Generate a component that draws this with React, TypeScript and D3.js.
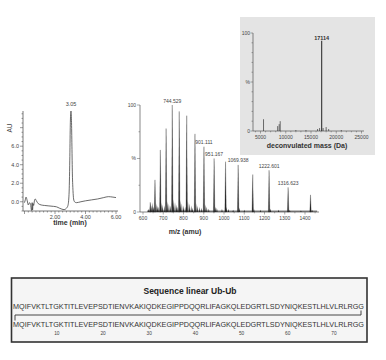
import React from "react";
import * as d3 from "d3";

// ---------- DATA ----------
// Chromatogram (time in min, absorbance AU)
const chromTime = [0.0, 0.05, 0.1, 0.18, 0.25, 0.33, 0.4, 0.45, 0.47, 0.5, 0.53, 0.56, 0.6, 0.65, 0.7, 0.78, 0.9, 1.1, 1.3, 1.6, 1.9, 2.1, 2.3, 2.45, 2.6, 2.75, 2.85, 2.92, 2.97, 3.0, 3.03, 3.05, 3.08, 3.11, 3.14, 3.18, 3.22, 3.28, 3.4, 3.7, 4.0, 4.4, 4.8, 5.2, 5.5, 5.8, 6.0];
const chromAU = [-0.1, 0.2, 0.5, 0.1, -0.35, -0.1, -0.3, -0.9, -0.95, -0.1, -0.9, -0.2, -0.4, 0.1, 0.3, 0.1, -0.2, -0.35, -0.4, -0.45, -0.5, -0.55, -0.7, -0.8, -0.85, -0.7, -0.4, 0.8, 4.5, 8.0, 9.6, 9.8, 8.8, 6.0, 3.0, 1.2, 0.3, 0.0, -0.1, 0.0, 0.1, 0.2, 0.3, 0.45, 0.55, 0.5, 0.45];
const chromPeakLabel = "3.05";
const chromPeakTime = 3.05;
const chromYTicks = [0, 2, 4, 6];
const chromXTicks = [2, 4, 6];

// ESI mass spectrum: main charge-state peaks (m/z, %)
const msMz = [636, 659.2, 685.6, 714.1, 744.5, 778.9, 815.9, 856.7, 901.1, 951.2, 1007.7, 1069.9, 1141.9, 1222.6, 1316.6, 1427.2];
const msInt = [9, 30, 58, 78, 100, 94, 90, 73, 61, 50, 47, 44, 35, 39, 23, 16];
// adduct / noise peaks near baseline (m/z, %)
const msMinorMz = [628, 641, 648, 652, 665, 672, 678, 690, 697, 705, 720, 728, 735, 751, 758, 766, 772, 785, 792, 800, 808, 822, 830, 838, 845, 862, 870, 880, 890, 907, 915, 925, 957, 965, 990, 1013, 1022, 1045, 1076, 1100, 1148, 1180, 1230, 1270, 1325, 1380, 1435];
const msMinorInt = [3, 6, 9, 5, 8, 6, 5, 9, 7, 6, 10, 8, 6, 12, 9, 7, 5, 11, 8, 6, 5, 10, 8, 6, 4, 8, 6, 5, 4, 7, 5, 3, 5, 4, 3, 5, 3, 2, 4, 2, 3, 2, 3, 2, 2, 1.5, 2];
const msLabels = ["744.529", "901.111", "951.167", "1069.938", "1222.601", "1316.623"];
const msLabelMz = [744.5, 901.1, 951.2, 1069.9, 1222.6, 1316.6];
const msXTicks = [600, 700, 800, 900, 1000, 1100, 1200, 1300, 1400];

// Deconvoluted mass spectrum (Da, %)
const decMass = [5600, 8400, 8700, 8900, 12000, 14000, 16300, 16700, 17114, 17400, 18000, 18500, 21000];
const decInt = [12, 5, 7, 10, 1, 1, 2, 3, 92, 3, 4, 2, 1];
const decXTicks = [5000, 10000, 15000, 20000, 25000];

// Sequence
const seqTitle = "Sequence linear Ub-Ub";
const seq = "MQIFVKTLTGKTITLEVEPSDTIENVKAKIQDKEGIPPDQQRLIFAGKQLEDGRTLSDYNIQKESTLHLVLRLRGG";
const seqNumbers = [10, 20, 30, 40, 50, 60, 70];

const FONT = "'Liberation Sans', Arial, Helvetica, sans-serif";
const AX = "#555";
const TX = "#444";

export default function App() {
  // ---------- chromatogram ----------
  const cx = d3.scaleLinear().domain([0, 6]).range([24.5, 116]);
  const cy = d3.scaleLinear().domain([-1, 9.8]).range([211, 111]);
  const chromLine = d3.line<number>().x((_, i) => cx(chromTime[i])).y((d) => cy(d)).curve(d3.curveMonotoneX);
  const cyMinor = d3.range(-1, 9.81, 0.5);
  const cxMinor = d3.range(0, 6.01, 0.25);

  // ---------- mass spectrum ----------
  const mx = d3.scaleLinear().domain([600, 1400]).range([143, 305]);
  const my = d3.scaleLinear().domain([0, 100]).range([212, 105]);
  const spike = (mz: number, v: number, hw: number) =>
    `M${mx(mz - hw)},${my(0)}L${mx(mz)},${my(v)}L${mx(mz + hw)},${my(0)}Z`;
  const myMinor = d3.range(0, 101, 25);
  const mxMinor = d3.range(600, 1460, 50);

  // ---------- deconvoluted ----------
  const dx = d3.scaleLinear().domain([5000, 25000]).range([260.5, 361.5]);
  const dy = d3.scaleLinear().domain([0, 100]).range([131, 33]);
  const dyMinor = d3.range(0, 101, 10);
  const dxMinor = d3.range(4000, 25001, 1000);

  // ---------- sequence ----------
  const seqX0 = 13;
  const seqW = 351;
  const charW = seqW / seq.length;

  return (
    <svg width={386} height={360} style={{ position: "absolute", left: 0, top: 0, background: "#fff" }} fontFamily={FONT}>
      {/* ===== Chromatogram ===== */}
      <g>
        <line x1={23} x2={23} y1={cy(9.8)} y2={211} stroke={AX} strokeWidth={0.8} />
        <line x1={23} x2={118} y1={211} y2={211} stroke={AX} strokeWidth={0.8} />
        {cyMinor.map((v, i) => (
          <line key={"cym" + i} x1={Number.isInteger(v) && v % 2 === 0 ? 20 : 21.5} x2={23} y1={cy(v)} y2={cy(v)} stroke={AX} strokeWidth={0.6} />
        ))}
        {cxMinor.map((v, i) => (
          <line key={"cxm" + i} x1={cx(v)} x2={cx(v)} y1={211} y2={Number.isInteger(v) && v % 2 === 0 ? 214 : 212.5} stroke={AX} strokeWidth={0.6} />
        ))}
        {chromYTicks.map((v) => (
          <text key={"cyt" + v} x={19} y={cy(v)} dy="0.35em" textAnchor="end" fontSize={5.5} fill={TX}>
            {v.toFixed(1)}
          </text>
        ))}
        {chromXTicks.map((v) => (
          <text key={"cxt" + v} x={cx(v)} y={219} textAnchor="middle" fontSize={5.5} fill={TX}>
            {v.toFixed(2)}
          </text>
        ))}
        <text x={10} y={128} transform="rotate(-90 10 128)" textAnchor="middle" dy="0.35em" fontSize={6.5} fill={TX}>AU</text>
        <path d={chromLine(chromAU) || ""} fill="none" stroke="#444" strokeWidth={0.8} />
        <text x={cx(chromPeakTime)} y={106} textAnchor="middle" fontSize={5.5} fill={TX}>{chromPeakLabel}</text>
        <text x={70} y={225} textAnchor="middle" fontSize={7} fontWeight="bold" fill="#333">time (min)</text>
      </g>

      {/* ===== Deconvoluted inset ===== */}
      <g>
        <rect x={240} y={17} width={135} height={138} fill="#e4e4e4" />
        <line x1={253} x2={253} y1={33} y2={131} stroke={AX} strokeWidth={0.7} />
        <line x1={253} x2={364} y1={131} y2={131} stroke={AX} strokeWidth={0.7} />
        {dyMinor.map((v) => (
          <line key={"dym" + v} x1={v % 50 === 0 ? 250.5 : 251.5} x2={253} y1={dy(v)} y2={dy(v)} stroke={AX} strokeWidth={0.5} />
        ))}
        {dxMinor.map((v) => (
          <line key={"dxm" + v} x1={dx(v)} x2={dx(v)} y1={131} y2={v % 5000 === 0 ? 133.5 : 132.3} stroke={AX} strokeWidth={0.5} />
        ))}
        <text x={250} y={dy(100)} dy="0.35em" textAnchor="end" fontSize={5} fill={TX}>100</text>
        <text x={250} y={dy(50)} dy="0.35em" textAnchor="end" fontSize={5} fill={TX}>%</text>
        <text x={250} y={dy(0)} dy="0.35em" textAnchor="end" fontSize={5} fill={TX}>0</text>
        {decXTicks.map((v) => (
          <text key={"dxt" + v} x={dx(v)} y={138.5} textAnchor="middle" fontSize={5} fill={TX}>{v}</text>
        ))}
        {decMass.map((m, i) => (
          <line key={"dp" + i} x1={dx(m)} x2={dx(m)} y1={dy(0)} y2={dy(decInt[i])} stroke="#333" strokeWidth={i === 8 ? 1.1 : 0.7} />
        ))}
        <text x={dx(17114)} y={39.5} textAnchor="middle" fontSize={5.5} fontWeight="bold" fill="#333">17114</text>
        <text x={307} y={148} textAnchor="middle" fontSize={7} fontWeight="bold" fill="#333">deconvulated mass (Da)</text>
      </g>

      {/* ===== Mass spectrum ===== */}
      <g>
        <line x1={140} x2={140} y1={my(100)} y2={212} stroke={AX} strokeWidth={0.7} />
        <line x1={140} x2={319} y1={212} y2={212} stroke={AX} strokeWidth={0.7} />
        {myMinor.map((v) => (
          <line key={"mym" + v} x1={v % 50 === 0 ? 137 : 138.5} x2={140} y1={my(v)} y2={my(v)} stroke={AX} strokeWidth={0.5} />
        ))}
        {mxMinor.map((v) => (
          <line key={"mxm" + v} x1={mx(v)} x2={mx(v)} y1={212} y2={v % 100 === 0 ? 214.5 : 213.3} stroke={AX} strokeWidth={0.5} />
        ))}
        <text x={136} y={my(100)} dy="0.35em" textAnchor="end" fontSize={5} fill={TX}>100</text>
        <text x={136} y={my(50)} dy="0.35em" textAnchor="end" fontSize={5} fill={TX}>%</text>
        <text x={136} y={my(0)} dy="0.35em" textAnchor="end" fontSize={5} fill={TX}>0</text>
        {msXTicks.map((v) => (
          <text key={"mxt" + v} x={mx(v)} y={219.5} textAnchor="middle" fontSize={5} fill={TX}>{v}</text>
        ))}
        {msMinorMz.map((m, i) => (
          <path key={"mn" + i} d={spike(m, msMinorInt[i], 3)} fill="#222" />
        ))}
        {msMz.map((m, i) => (
          <path key={"mp" + i} d={spike(m, msInt[i], 3.5)} fill="#222" stroke="#333" strokeWidth={0.3} />
        ))}
        <line x1={mx(620)} x2={mx(1460)} y1={my(0.8)} y2={my(0.8)} stroke="#222" strokeWidth={0.8} />
        {msLabels.map((l, i) => (
          <text key={"ml" + i} x={mx(msLabelMz[i])} y={my(msInt[msMz.findIndex((m) => Math.abs(m - msLabelMz[i]) < 1)]) - 2.5} textAnchor="middle" fontSize={5} fill={TX}>{l}</text>
        ))}
        <text x={185} y={234} textAnchor="middle" fontSize={7} fontWeight="bold" fill="#333">m/z (amu)</text>
      </g>

      {/* ===== Sequence box ===== */}
      <g>
        <rect x={11.5} y={278} width={355.5} height={64} fill="#f5f5f5" stroke="#333" strokeWidth={1.6} />
        <text x={190} y={294} textAnchor="middle" fontSize={8.5} fontWeight="bold" fill="#222">{seqTitle}</text>
        <text x={seqX0} y={308.5} fontSize={7.2} fill="#333" textLength={seqW} lengthAdjust="spacingAndGlyphs">{seq}</text>
        <path d={`M${seqX0 + seqW - 3},310.5V315H${seqX0 + 2}V320.5`} fill="none" stroke="#333" strokeWidth={0.9} />
        <text x={seqX0} y={326.5} fontSize={7.2} fill="#333" textLength={seqW} lengthAdjust="spacingAndGlyphs">{seq}</text>
        {seqNumbers.map((n) => (
          <text key={"sn" + n} x={seqX0 + (n - 0.5) * charW} y={334.5} textAnchor="middle" fontSize={4.8} fill={TX}>{n}</text>
        ))}
      </g>
    </svg>
  );
}
